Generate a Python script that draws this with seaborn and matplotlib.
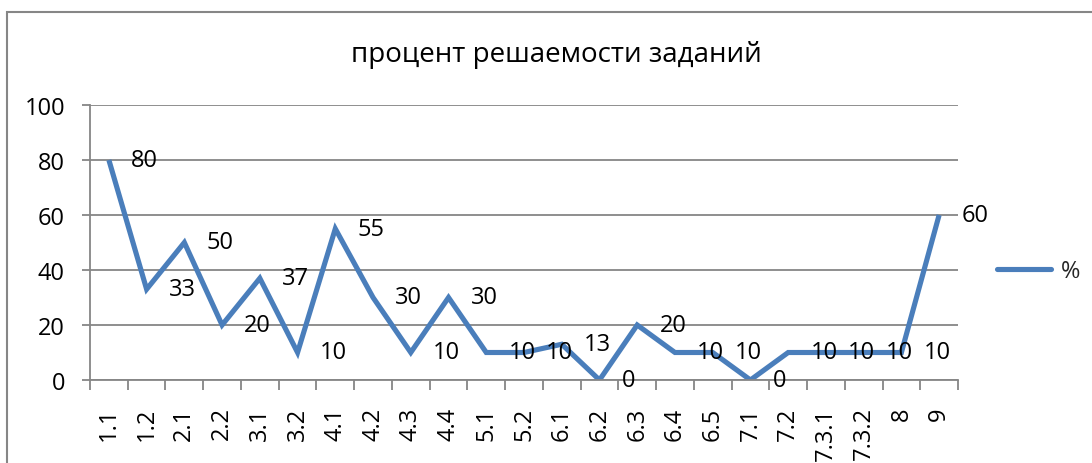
import matplotlib
matplotlib.use("Agg")
import matplotlib.pyplot as plt
import seaborn as sns
import pandas as pd
from matplotlib.patches import Rectangle
from matplotlib.lines import Line2D
from matplotlib.ticker import FixedLocator

categories = ["1.1", "1.2", "2.1", "2.2", "3.1", "3.2", "4.1", "4.2", "4.3", "4.4",
              "5.1", "5.2", "6.1", "6.2", "6.3", "6.4", "6.5", "7.1", "7.2",
              "7.3.1", "7.3.2", "8", "9"]
values = [80, 33, 50, 20, 37, 10, 55, 30, 10, 30,
          10, 10, 13, 0, 20, 10, 10, 0, 10,
          10, 10, 10, 60]
series_name = "%"
title = "процент решаемости заданий"
y_ticks = [0, 20, 40, 60, 80, 100]

sns.set_theme(style="white")
plt.rcParams['font.family'] = ['Open Sans', 'DejaVu Sans']

BLUE = "#4A7EBB"
GRID = "#868686"

fig = plt.figure(figsize=(10.92, 4.64), dpi=100)
ax = fig.add_axes([90/1092, 1-381/464, (958-90)/1092, (381-106)/464])

df = pd.DataFrame({"cat": categories, "val": values, "series": series_name})
df["pos"] = range(len(categories))
sns.lineplot(data=df, x="pos", y="val", hue="series", palette=[BLUE], sort=False,
             linewidth=3.7, ax=ax, legend=False)
for l in ax.lines:
    l.set_solid_joinstyle("miter")
    l.set_solid_capstyle("butt")

ax.set_xlim(-0.5, len(categories) - 0.5)
ax.set_ylim(0, 100)
ax.set_xlabel("")
ax.set_ylabel("")

ax.set_yticks(y_ticks)
ax.set_yticklabels([str(v) for v in y_ticks])
ax.yaxis.grid(True, color=GRID, linewidth=1.3)
ax.set_axisbelow(True)
ax.set_xticks(range(len(categories)))
ax.set_xticklabels(categories, rotation=90, va="top", ha="center")
ax.xaxis.set_minor_locator(FixedLocator([i + 0.5 for i in range(-1, len(categories))]))

ax.tick_params(axis="x", which="major", length=0, pad=19, labelsize=17, colors="black")
ax.tick_params(axis="x", which="minor", length=7, width=1.3, color=GRID, bottom=True, direction="out")
ax.tick_params(axis="y", which="major", length=6, width=1.3, color=GRID, left=True,
               pad=12, labelsize=17, labelcolor="black", direction="out")

for s in ["top", "right"]:
    ax.spines[s].set_visible(False)
for s in ["left", "bottom"]:
    ax.spines[s].set_visible(True)
    ax.spines[s].set_color(GRID)
    ax.spines[s].set_linewidth(1.3)

for i, v in enumerate(values):
    ax.annotate(str(v), (i, v), xytext=(16, 0), textcoords="offset points",
                ha="left", va="center", fontsize=17, color="black")

fig.text(556/1092, 1-55/464, title, ha="center", va="center", fontsize=20, color="black")

h = Line2D([0], [0], color=BLUE, linewidth=3.7, solid_capstyle="round")
fig.legend([h], [series_name], loc="center left", bbox_to_anchor=(997/1092, 1-272/464),
           frameon=False, fontsize=17, handlelength=2.3, handletextpad=0.4,
           borderaxespad=0, borderpad=0)

fig.patches.append(Rectangle((7/1092, -0.1), 1.2, 1-13/464+0.1, transform=fig.transFigure,
                             fill=False, edgecolor=GRID, linewidth=1.5))

fig.savefig("out.png", dpi=100)
